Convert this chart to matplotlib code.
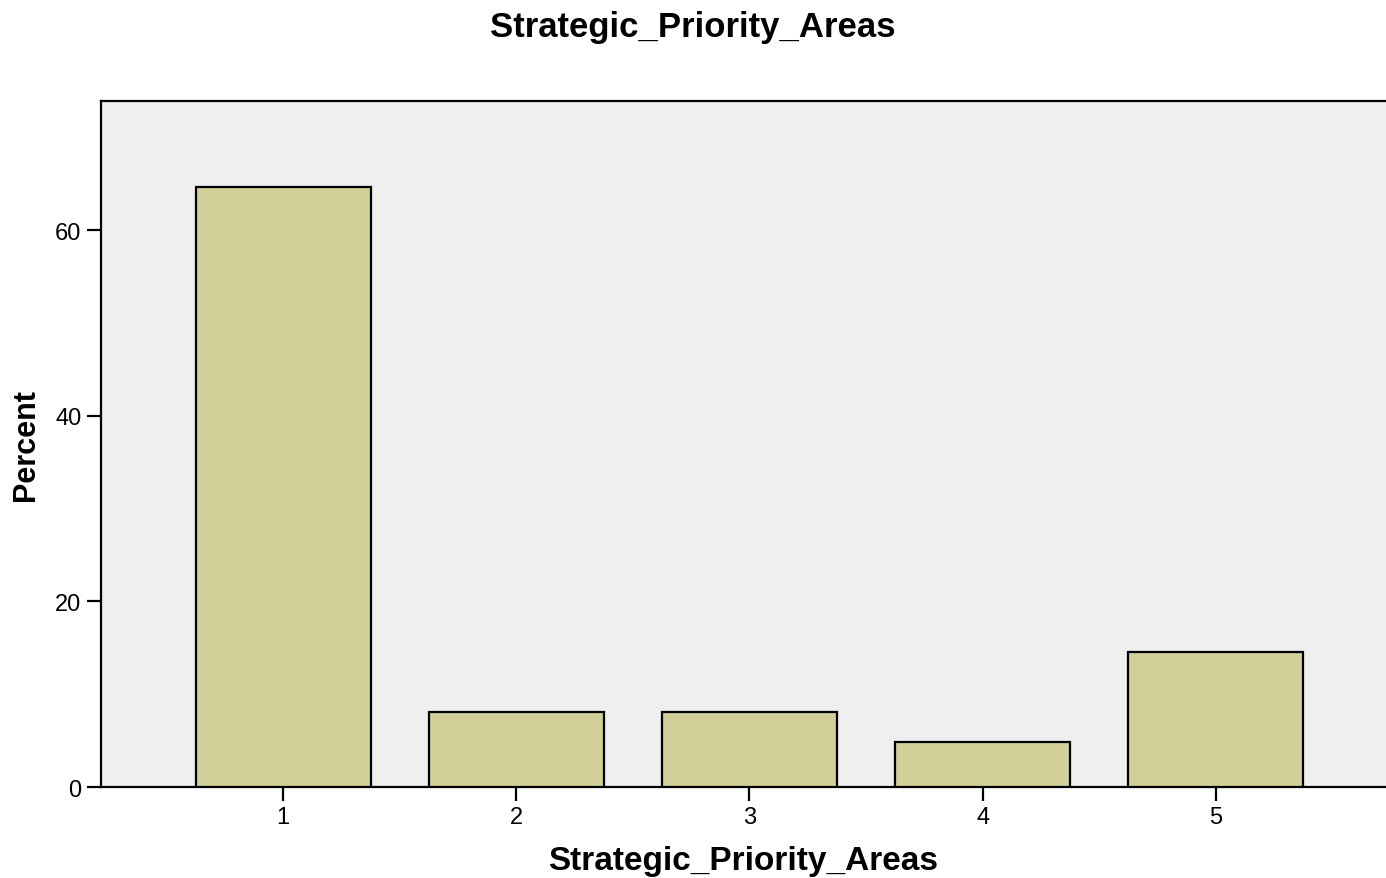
import matplotlib.pyplot as plt

plt.rcParams['font.family'] = ['Liberation Sans', 'DejaVu Sans']

categories = [1, 2, 3, 4, 5]
percent = [64.6, 8.1, 8.1, 4.8, 14.5]
tick_labels = ['1', '2', '3', '4', '5']

fig = plt.figure(figsize=(13.86, 8.79), dpi=100)
ax = fig.add_axes([0.0729, 0.1035, 0.9271, 0.7805])

ax.bar(categories, percent, width=0.75, color='#d3cf98', edgecolor='black', linewidth=1.6, zorder=3)

ax.set_facecolor('#efefef')
ax.set_xlim(0.219, 5.73)
ax.set_ylim(0, 73.9)
ax.set_xticks(categories)
ax.set_xticklabels(tick_labels)
ax.set_yticks([0, 20, 40, 60])

ax.spines['right'].set_visible(False)
for side in ['left', 'top', 'bottom']:
    ax.spines[side].set_linewidth(1.6)

ax.tick_params(axis='both', direction='out', length=10, width=1.6, labelsize=17, pad=4)

ax.set_xlabel('Strategic_Priority_Areas', fontsize=24, fontweight='bold', labelpad=12)
ax.set_ylabel('Percent', fontsize=22, fontweight='bold', labelpad=10)
fig.suptitle('Strategic_Priority_Areas', fontsize=25, fontweight='bold', y=0.988)

fig.savefig('out.png', dpi=100)
